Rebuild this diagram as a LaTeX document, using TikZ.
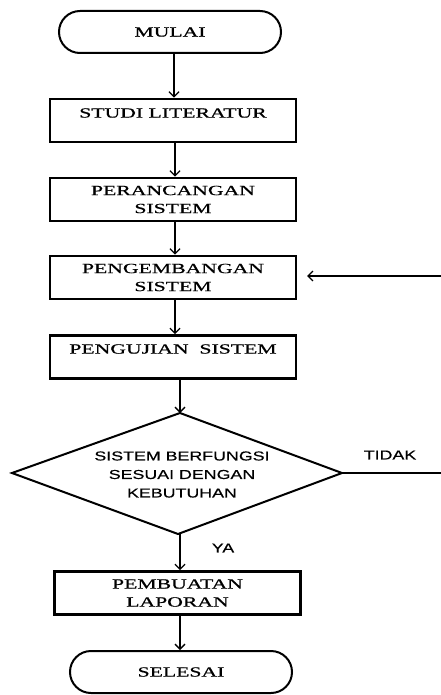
\documentclass[tikz,border=0pt]{standalone}
\usepackage{fontspec}
\usetikzlibrary{arrows.meta}
\newfontfamily\flowserif[FakeStretch=1.55,FakeBold=0.8]{Liberation Serif}
\newfontfamily\flowsans[FakeStretch=1.37,FakeBold=0.4]{Liberation Sans}
\begin{document}
\begin{tikzpicture}[x=1pt,y=-1pt,
  arr/.style={line width=1.3pt,-{Straight Barb[length=5pt,width=10pt,line width=1.3pt]}},
  box/.style={draw,line width=2.8pt,minimum width=246pt,minimum height=43pt,inner sep=0pt,
    font=\fontsize{14}{18}\flowserif,align=center},
  boxtxt/.style={font=\fontsize{14}{18}\flowserif,inner sep=0pt},
  term/.style={draw,line width=2pt,rounded corners=21pt,minimum height=42pt,inner sep=0pt,
    font=\fontsize{14}{18}\flowserif},
  lbl/.style={font=\fontsize{13}{18.5}\flowsans,align=center,inner sep=0pt}]
\useasboundingbox (0,0) rectangle (441,695);
% nodes
\node[term,minimum width=222pt] (mulai) at (170,32) {MULAI};
\node[box,label={[boxtxt,yshift=7.5pt]center:STUDI LITERATUR}] (studi) at (173,120.5) {};
\node[box] (ranc) at (173,199.5) {PERANCANGAN\\SISTEM};
\node[box] (kemb) at (173,277.5) {PENGEMBANGAN\\SISTEM};
\node[box,label={[boxtxt,yshift=8pt]center:PENGUJIAN\ \ SISTEM}] (uji) at (173,357) {};
\coordinate (dt) at (180,413);
\coordinate (dr) at (342,473);
\coordinate (db) at (178,534);
\coordinate (dl) at (12,473);
\draw[line width=2pt,line join=miter] (dt) -- (dr) -- (db) -- (dl) -- cycle;
\node[lbl] (cek) at (182,474.5) {SISTEM BERFUNGSI\\SESUAI DENGAN\\KEBUTUHAN};
\node[box] (lapor) at (177.5,593) {PEMBUATAN\\LAPORAN};
\node[term,minimum width=222pt] (selesai) at (181,672) {SELESAI};
\node[lbl] (tidak) at (390,455) {TIDAK};
\node[lbl] (ya) at (223,548) {YA};
% connector x positions
\coordinate (x1) at (174,0);
\coordinate (x2) at (175,0);
\coordinate (x3) at (180,0);
\coordinate (r1) at (446,473);
\coordinate (r2) at (446,276);
\coordinate (ke) at (307,276);
% connectors
\draw[arr] (mulai.south -| x1) -- (studi.north -| x1);
\draw[arr] (studi.south -| x2) -- (ranc.north -| x2);
\draw[arr] (ranc.south -| x2) -- (kemb.north -| x2);
\draw[arr] (kemb.south -| x2) -- (uji.north -| x2);
\draw[arr] (uji.south -| x3) -- (dt);
\draw[arr] (db -| x3) -- (lapor.north -| x3);
\draw[arr] (lapor.south -| x3) -- (selesai.north -| x3);
\draw[arr] (dr) -- (r1) -- (r2) -- (ke);
\end{tikzpicture}
\end{document}
